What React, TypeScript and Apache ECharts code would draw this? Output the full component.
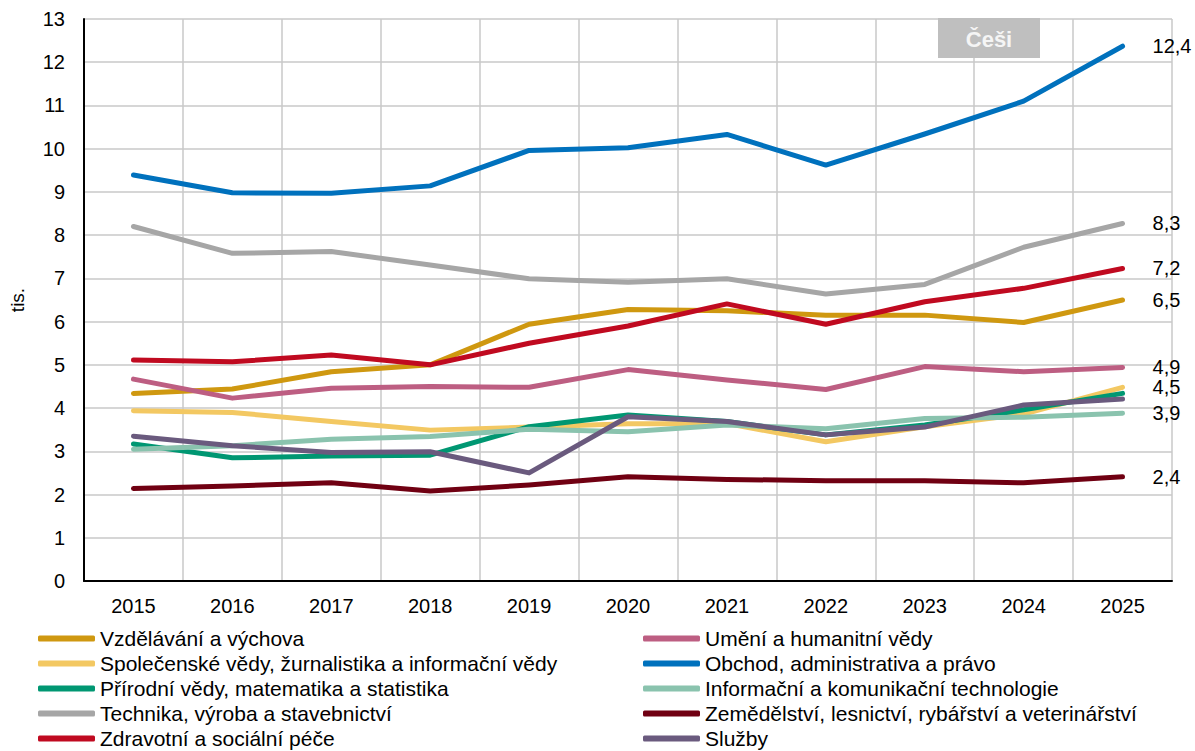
import React, { useEffect, useRef } from "react";
import * as echarts from "echarts";

const years = ["2015", "2016", "2017", "2018", "2019", "2020", "2021", "2022", "2023", "2024", "2025"];

const vzdelavani = [4.34, 4.44, 4.84, 5.0, 5.94, 6.28, 6.25, 6.15, 6.15, 5.98, 6.5];
const spolecenske = [3.94, 3.9, 3.69, 3.49, 3.56, 3.64, 3.64, 3.22, 3.57, 3.86, 4.48];
const prirodni = [3.17, 2.85, 2.89, 2.91, 3.57, 3.84, 3.69, 3.38, 3.61, 3.96, 4.34];
const technika = [8.2, 7.58, 7.62, 7.31, 6.99, 6.91, 6.99, 6.64, 6.86, 7.72, 8.27];
const zdravotni = [5.11, 5.07, 5.23, 5.0, 5.5, 5.9, 6.41, 5.94, 6.46, 6.77, 7.23];
const umeni = [4.67, 4.23, 4.46, 4.5, 4.48, 4.89, 4.65, 4.43, 4.96, 4.84, 4.94];
const obchod = [9.39, 8.98, 8.97, 9.14, 9.96, 10.02, 10.33, 9.62, 10.34, 11.1, 12.37];
const informacni = [3.05, 3.13, 3.28, 3.34, 3.51, 3.45, 3.61, 3.52, 3.76, 3.79, 3.88];
const zemedelstvi = [2.14, 2.2, 2.27, 2.08, 2.22, 2.41, 2.35, 2.32, 2.32, 2.27, 2.41];
const sluzby = [3.35, 3.13, 2.97, 2.99, 2.5, 3.8, 3.69, 3.38, 3.56, 4.07, 4.21];

type S = { name: string; data: number[]; color: string; endLabel: boolean };

const seriesDefs: S[] = [
  { name: "Vzdělávání a výchova", data: vzdelavani, color: "#CF9810", endLabel: true },
  { name: "Společenské vědy, žurnalistika a informační vědy", data: spolecenske, color: "#F3C862", endLabel: true },
  { name: "Přírodní vědy, matematika a statistika", data: prirodni, color: "#009772", endLabel: false },
  { name: "Technika, výroba a stavebnictví", data: technika, color: "#A6A6A6", endLabel: true },
  { name: "Zdravotní a sociální péče", data: zdravotni, color: "#C00A20", endLabel: true },
  { name: "Umění a humanitní vědy", data: umeni, color: "#BD5E82", endLabel: true },
  { name: "Obchod, administrativa a právo", data: obchod, color: "#0071BD", endLabel: true },
  { name: "Informační a komunikační technologie", data: informacni, color: "#8AC3AE", endLabel: true },
  { name: "Zemědělství, lesnictví, rybářství a veterinářství", data: zemedelstvi, color: "#700012", endLabel: true },
  { name: "Služby", data: sluzby, color: "#6A5A7E", endLabel: false },
];

const legendRowCenters = [638, 663, 688, 713, 738];

const FONT = "'Liberation Sans', Arial, sans-serif";

export default function App() {
  const ref = useRef<HTMLDivElement>(null);
  useEffect(() => {
    if (!ref.current) return;
    const chart = echarts.init(ref.current, null, { renderer: "svg" });
    const legends = seriesDefs.map((s, i) => {
      const col = i < 5 ? 0 : 1;
      const row = i % 5;
      return {
        orient: "horizontal",
        left: col === 0 ? 38 : 643,
        top: legendRowCenters[row] - 10,
        padding: 0,
        icon: "roundRect",
        itemWidth: 57,
        itemHeight: 6,
        textStyle: { fontFamily: FONT, fontSize: 21, color: "#000", lineHeight: 20 },
        selectedMode: false,
        data: [s.name],
      };
    });
    chart.setOption({
      animation: false,
      textStyle: { fontFamily: FONT },
      grid: { left: 81, right: 23, top: 19, bottom: 170 },
      legend: legends,
      xAxis: {
        type: "category",
        data: years,
        boundaryGap: true,
        axisLine: { show: true, lineStyle: { color: "#000", width: 2 } },
        axisTick: { show: false },
        axisLabel: { fontFamily: FONT, fontSize: 20, color: "#000", margin: 15 },
        splitLine: { show: true, interval: 0, lineStyle: { color: "#C8C8C8", width: 1.5 } },
      },
      yAxis: {
        type: "value",
        min: 0,
        max: 13,
        interval: 1,
        name: "tis.",
        nameLocation: "middle",
        nameGap: 57,
        nameTextStyle: { fontFamily: FONT, fontSize: 19, color: "#000" },
        axisLine: { show: true, lineStyle: { color: "#000", width: 2 } },
        axisTick: { show: false },
        axisLabel: { fontFamily: FONT, fontSize: 20, color: "#000", margin: 19 },
        splitLine: { show: true, lineStyle: { color: "#C8C8C8", width: 1.5 } },
      },
      series: seriesDefs.map((s) => ({
        name: s.name,
        type: "line",
        symbol: "none",
        showSymbol: false,
        color: s.color,
        lineStyle: { color: s.color, width: 5, cap: "round", join: "round" },
        itemStyle: { color: s.color },
        endLabel: {
          show: s.endLabel,
          distance: 30,
          fontFamily: FONT,
          fontSize: 20,
          color: "#000",
          formatter: (p: any) => Number(p.value).toFixed(1).replace(".", ","),
        },
        data: s.data,
      })),
      graphic: [
        {
          type: "rect",
          left: 938,
          top: 18,
          shape: { width: 102, height: 40 },
          style: { fill: "#BFBFBF" },
          z: 10,
        },
        {
          type: "text",
          x: 989,
          y: 39,
          style: {
            text: "Češi",
            fill: "#F5F5F5",
            font: `bold 22px ${FONT}`,
            align: "center",
            verticalAlign: "middle",
          },
          z: 11,
        },
      ],
    });
    return () => chart.dispose();
  }, []);
  return <div ref={ref} style={{ position: "absolute", left: 0, top: 0, width: 1195, height: 751 }} />;
}
